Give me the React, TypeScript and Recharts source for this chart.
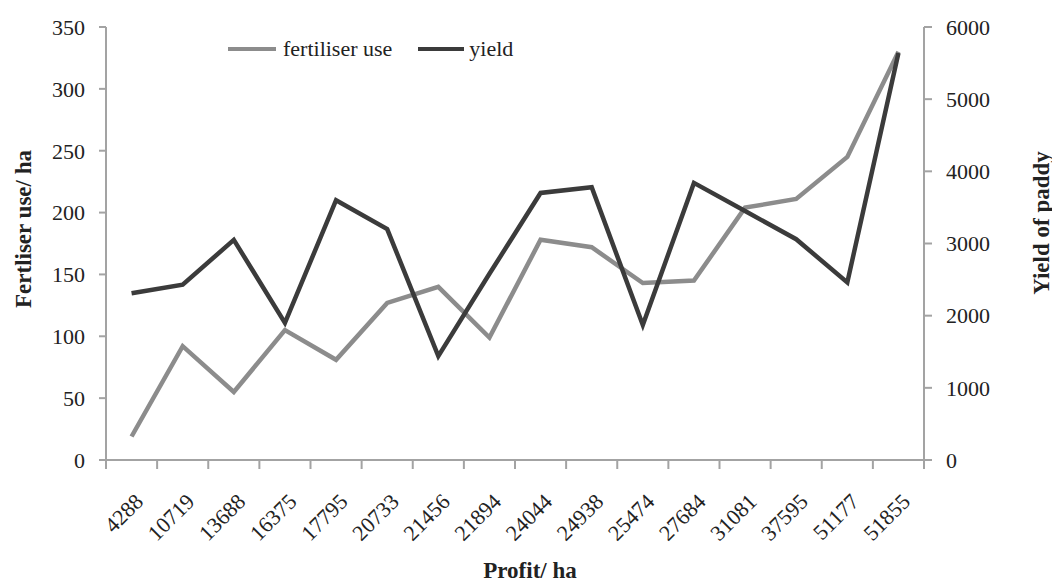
import React from 'react';
import { LineChart, Line, XAxis, YAxis, Legend } from 'recharts';

const categories = ['4288', '10719', '13688', '16375', '17795', '20733', '21456', '21894', '24044', '24938', '25474', '27684', '31081', '37595', '51177', '51855'];
const fertiliserUse = [19, 92, 55, 105, 81, 127, 140, 99, 178, 172, 143, 145, 204, 211, 245, 330];
const yieldOfPaddy = [2310, 2430, 3050, 1900, 3600, 3200, 1440, 2580, 3700, 3780, 1870, 3840, 3450, 3060, 2460, 5640];
const leftTicks = [0, 50, 100, 150, 200, 250, 300, 350];
const rightTicks = [0, 1000, 2000, 3000, 4000, 5000, 6000];

const data = categories.map((c, i) => ({ profit: c, fert: fertiliserUse[i], yld: yieldOfPaddy[i] }));

const W = 1052;
const H = 584;
const TOP = 27;
const LEFT_W = 106;
const RIGHT_W = 128;
const XAXIS_H = 124;
const PLOT_BOTTOM = H - XAXIS_H;
const BAND = (W - LEFT_W - RIGHT_W) / categories.length;

const FONT = '"Liberation Serif", "Times New Roman", serif';
const AXIS_COLOR = '#a3a3a3';
const TEXT_COLOR = '#222';
const FERT_COLOR = '#8c8c8c';
const YIELD_COLOR = '#3b3b3b';

const XTick = (props: any) => {
  const { x, payload, index } = props;
  const half = BAND / 2;
  const tx = x + 13;
  const ty = PLOT_BOTTOM + 43;
  return (
    <g>
      <line x1={x - half} y1={PLOT_BOTTOM} x2={x - half} y2={PLOT_BOTTOM + 9} stroke={AXIS_COLOR} strokeWidth={2} />
      {index === categories.length - 1 && (
        <line x1={x + half} y1={PLOT_BOTTOM} x2={x + half} y2={PLOT_BOTTOM + 9} stroke={AXIS_COLOR} strokeWidth={2} />
      )}
      <text
        x={tx}
        y={ty}
        textAnchor="end"
        fontSize={22}
        fontFamily={FONT}
        fill={TEXT_COLOR}
        transform={`rotate(-45, ${tx}, ${ty})`}
      >
        {payload.value}
      </text>
    </g>
  );
};

const LegendContent = () => (
  <div style={{ display: 'flex', alignItems: 'center', fontFamily: FONT, fontSize: 22, color: TEXT_COLOR, height: 26 }}>
    <span style={{ display: 'inline-block', width: 48, height: 4, background: FERT_COLOR, marginRight: 7 }} />
    <span style={{ marginRight: 26 }}>fertiliser use</span>
    <span style={{ display: 'inline-block', width: 46, height: 4, background: YIELD_COLOR, marginRight: 5 }} />
    <span>yield</span>
  </div>
);

const LeftTitle = () => (
  <text x={23} y={229} textAnchor="middle" dominantBaseline="central" fontSize={23} fontWeight="bold" fontFamily={FONT} fill={TEXT_COLOR} transform="rotate(-90, 23, 229)">
    Fertliser use/ ha
  </text>
);

const RightTitle = () => (
  <text x={1041} y={223} textAnchor="middle" dominantBaseline="central" fontSize={23} fontWeight="bold" fontFamily={FONT} fill={TEXT_COLOR} transform="rotate(-90, 1041, 223)">
    Yield of paddy
  </text>
);

const BottomTitle = () => (
  <text x={530} y={578} textAnchor="middle" fontSize={23} fontWeight="bold" fontFamily={FONT} fill={TEXT_COLOR}>
    Profit/ ha
  </text>
);

export default function App() {
  return (
    <div style={{ position: 'absolute', left: 0, top: 0, width: W, height: H, background: '#fff' }}>
      <LineChart width={W} height={H} data={data} margin={{ top: TOP, right: 0, bottom: 0, left: 0 }}>
        <XAxis
          dataKey="profit"
          scale="band"
          height={XAXIS_H}
          interval={0}
          tickLine={false}
          axisLine={{ stroke: AXIS_COLOR, strokeWidth: 2 }}
          tick={<XTick />}
          label={<BottomTitle />}
        />
        <YAxis
          yAxisId="left"
          orientation="left"
          width={LEFT_W}
          domain={[0, 350]}
          ticks={leftTicks}
          interval={0}
          tickSize={7}
          tickMargin={14}
          axisLine={{ stroke: AXIS_COLOR, strokeWidth: 2 }}
          tickLine={{ stroke: AXIS_COLOR, strokeWidth: 2 }}
          tick={{ fontSize: 22, fontFamily: FONT, fill: TEXT_COLOR }}
          label={<LeftTitle />}
        />
        <YAxis
          yAxisId="right"
          orientation="right"
          width={RIGHT_W}
          domain={[0, 6000]}
          ticks={rightTicks}
          interval={0}
          tickSize={8}
          tickMargin={14}
          axisLine={{ stroke: AXIS_COLOR, strokeWidth: 2 }}
          tickLine={{ stroke: AXIS_COLOR, strokeWidth: 2 }}
          tick={{ fontSize: 22, fontFamily: FONT, fill: TEXT_COLOR }}
          label={<RightTitle />}
        />
        <Legend
          verticalAlign="middle"
          align="center"
          layout="horizontal"
          content={<LegendContent />}
          wrapperStyle={{ position: 'absolute', top: 36, left: 228, width: 'auto' }}
        />
        <Line yAxisId="left" type="linear" dataKey="fert" name="fertiliser use" stroke={FERT_COLOR} strokeWidth={4.5} dot={false} activeDot={false} isAnimationActive={false} />
        <Line yAxisId="right" type="linear" dataKey="yld" name="yield" stroke={YIELD_COLOR} strokeWidth={4.5} dot={false} activeDot={false} isAnimationActive={false} />
      </LineChart>
    </div>
  );
}
